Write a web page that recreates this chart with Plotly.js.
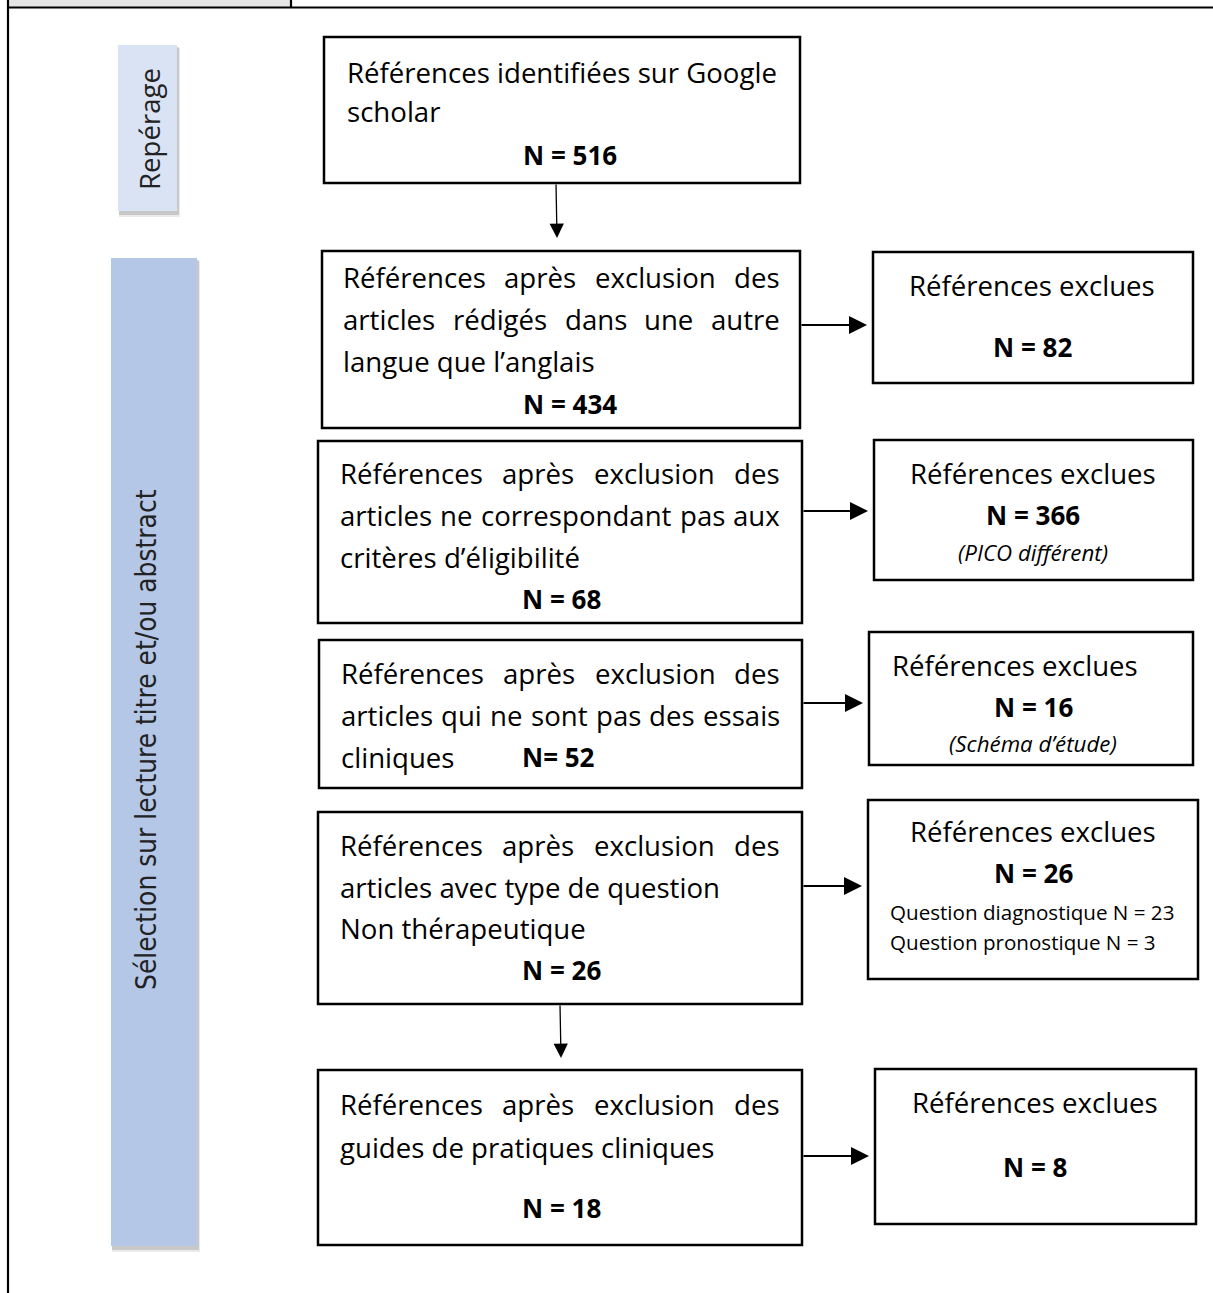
<!DOCTYPE html>
<html>
<head>
<meta charset="utf-8">
<script src="https://cdn.plot.ly/plotly-3.0.1.min.js"></script>
<style>html,body{margin:0;padding:0;background:#fff;}#chart{width:1213px;height:1293px;}</style>
</head>
<body>
<div id="chart"></div>
<script>
// ---------- DATA ----------
const stageLabels = ['Repérage', 'Sélection sur lecture titre et/ou abstract'];
const mainCounts = [516, 434, 68, 52, 26, 18];
const excludedCounts = [82, 366, 16, 26, 8];
const excludedTitle = 'Références exclues';
const excludedReasons = ['', '(PICO différent)', '(Schéma d’étude)', '', ''];
const subQuestionLabels = ['Question diagnostique', 'Question pronostique'];
const subQuestionCounts = [23, 3];
const mainJustifiedLines = [
  [],
  ['Références après exclusion des', 'articles rédigés dans une autre'],
  ['Références après exclusion des', 'articles ne correspondant pas aux'],
  ['Références après exclusion des', 'articles qui ne sont pas des essais'],
  ['Références après exclusion des'],
  ['Références après exclusion des']
];
const mainPlainLines = [
  ['Références identifiées sur Google', 'scholar'],
  ['langue que l’anglais'],
  ['critères d’éligibilité'],
  ['cliniques'],
  ['articles avec type de question', 'Non thérapeutique'],
  ['guides de pratiques cliniques']
];

// ---------- LAYOUT GEOMETRY (pixels) ----------
const FAM = 'Open Sans';
const FONT = '"Open Sans", sans-serif';
const canvas = document.createElement('canvas');
const ctx = canvas.getContext('2d');
function measure(t, size, weight, style, fam){
  ctx.font = (style||'normal') + ' ' + (weight||'normal') + ' ' + size + 'px "' + (fam||FAM) + '", monospace';
  return ctx.measureText(t).width;
}
function available(fam){
  const s = 'abcdefghijklmnopqrstuvwxyz ABCDEFG 0123';
  ctx.font = '40px monospace'; const m = ctx.measureText(s).width;
  ctx.font = '40px "' + fam + '", monospace'; const a = ctx.measureText(s).width;
  ctx.font = '40px serif'; const sr = ctx.measureText(s).width;
  ctx.font = '40px "' + fam + '", serif'; const b = ctx.measureText(s).width;
  return !(a === m && b === sr);
}
const SIDEFAM = ['Liberation Sans Narrow', 'DejaVu Sans Condensed', 'Roboto Condensed', 'Open Sans Condensed', 'Noto Sans'].find(available) || 'Open Sans';
function fit(t, target, weight, style, fam){ return Math.round(target / measure(t, 100, weight, style, fam) * 1000) / 10; }

const FS = fit(mainPlainLines[0][0], 430);
const FSB = fit('N = ' + mainCounts[0], 94, 'bold');
const FSI = fit(excludedReasons[1], 150, 'normal', 'italic');
const FSS = fit(subQuestionLabels[0] + ' N = ' + subQuestionCounts[0], 285);
const FSR = fit(stageLabels[0], 122);
const FSL = fit(stageLabels[1], 500, 'normal', 'normal', SIDEFAM);

const mainBoxes = [
  {x0:324, x1:800, y0:37,  y1:183, tx0:347, tx1:780, lines:[72,111], ny:155, nx:570},
  {x0:322, x1:800, y0:251, y1:428, tx0:343, tx1:780, lines:[277,319,361], ny:404, nx:570},
  {x0:318, x1:802, y0:441, y1:623, tx0:340, tx1:780, lines:[473,515,557], ny:599, nx:561},
  {x0:319, x1:802, y0:640, y1:788, tx0:341, tx1:780, lines:[673,715,757], ny:757, nx:522, nLeft:true},
  {x0:318, x1:802, y0:812, y1:1004, tx0:340, tx1:780, lines:[845,887,928], ny:970, nx:561},
  {x0:318, x1:802, y0:1070, y1:1245, tx0:340, tx1:780, lines:[1104,1147], ny:1208, nx:561}
];
const exclBoxes = [
  {x0:873, x1:1193, y0:252, y1:383, ty:285, ny:347, cx:1032, ay:325},
  {x0:874, x1:1193, y0:440, y1:580, ty:473, ny:515, ry:552, cx:1033, ay:511},
  {x0:869, x1:1193, y0:632, y1:765, ty:665, ny:707, ry:743, cx:1033, tcx:1015, ay:703},
  {x0:868, x1:1198, y0:800, y1:979, ty:831, ny:873, cx:1033, ay:886, sub:[912,942], subx:890},
  {x0:875, x1:1196, y0:1069, y1:1224, ty:1102, ny:1167, cx:1035, ay:1156}
];

const shapes = [];
const annotations = [];
function txt(text, x, y, opts){
  annotations.push(Object.assign({
    x:x, y:y, xref:'x', yref:'y', text:text, showarrow:false,
    xanchor:'center', yanchor:'middle', borderpad:0, borderwidth:0,
    font:{family:FONT, size:FS, color:'#000'}
  }, opts||{}));
}
function rect(x0,y0,x1,y1){
  shapes.push({type:'rect', xref:'x', yref:'y', x0:x0, y0:y0, x1:x1, y1:y1,
    line:{color:'#000', width:2.5}, fillcolor:'rgba(0,0,0,0)', layer:'above'});
}
function seg(x0,y0,x1,y1,w){
  shapes.push({type:'line', xref:'x', yref:'y', x0:x0, y0:y0, x1:x1, y1:y1, line:{color:'#000', width:w}});
}
function arrow(xFrom,yFrom,xTo,yTo,w,s){
  annotations.push({x:xTo, y:yTo, ax:xFrom, ay:yFrom, xref:'x', yref:'y', axref:'x', ayref:'y',
    text:'', showarrow:true, arrowhead:2, arrowsize:s, arrowwidth:w, arrowcolor:'#000', standoff:0, startstandoff:0});
}
function justify(line, x0, x1, y){
  const words = line.split(' ');
  const widths = words.map(w => measure(w, FS));
  const total = widths.reduce((a,b)=>a+b,0);
  const gap = (x1 - x0 - total) / (words.length - 1);
  let x = x0;
  words.forEach((w,i) => { txt(w, x, y, {xanchor:'left'}); x += widths[i] + gap; });
}

// page frame
shapes.push({type:'rect', xref:'x', yref:'y', x0:8, y0:0, x1:291, y1:7, line:{width:0}, fillcolor:'#e7e6e6', layer:'below'});
seg(8,7.5,1213,7.5,2.2);
seg(8,0,8,1293,2.2);
seg(291,0,291,7.5,2.2);

// stage side boxes with soft shadow
function sideBox(x0,y0,x1,y1,fill){
  shapes.push({type:'rect', xref:'x', yref:'y', x0:x0+1, y0:y0+3, x1:x1+3, y1:y1+6, line:{width:0}, fillcolor:'rgba(0,0,0,0.08)', layer:'below'});
  shapes.push({type:'rect', xref:'x', yref:'y', x0:x0+1, y0:y0+2, x1:x1+2, y1:y1+4, line:{width:0}, fillcolor:'rgba(0,0,0,0.15)', layer:'below'});
  shapes.push({type:'rect', xref:'x', yref:'y', x0:x0, y0:y0, x1:x1, y1:y1, line:{width:0}, fillcolor:fill, layer:'below'});
}
sideBox(118,45,177,211,'#dae3f3');
sideBox(111,258,197,1246,'#b4c7e7');
txt(stageLabels[0], 149, 129, {textangle:-90, font:{family:FONT, size:FSR, color:'#222'}});
txt(stageLabels[1], 146, 740, {textangle:-90, font:{family:'"' + SIDEFAM + '", sans-serif', size:FSL, color:'#222'}});

// main boxes
mainBoxes.forEach((b,i) => {
  rect(b.x0,b.y0,b.x1,b.y1);
  let li = 0;
  mainJustifiedLines[i].forEach(l => { justify(l, b.tx0, b.tx1, b.lines[li]); li++; });
  mainPlainLines[i].forEach(l => { txt(l, b.tx0, b.lines[li], {xanchor:'left'}); li++; });
  const nText = i === 3 ? '<b>N= ' + mainCounts[i] + '</b>' : '<b>N = ' + mainCounts[i] + '</b>';
  txt(nText, b.nx, b.ny, Object.assign({font:{family:FONT, size:FSB, color:'#000'}}, b.nLeft ? {xanchor:'left'} : {}));
});

// excluded boxes
exclBoxes.forEach((b,i) => {
  rect(b.x0,b.y0,b.x1,b.y1);
  txt(excludedTitle, b.tcx || b.cx, b.ty);
  txt('<b>N = ' + excludedCounts[i] + '</b>', b.cx, b.ny, {font:{family:FONT, size:FSB, color:'#000'}});
  if (excludedReasons[i]) txt('<i>' + excludedReasons[i] + '</i>', b.cx, b.ry, {font:{family:FONT, size:FSI, color:'#000'}});
  if (b.sub) subQuestionLabels.forEach((s,k) => txt(s + ' N = ' + subQuestionCounts[k], b.subx, b.sub[k], {xanchor:'left', font:{family:FONT, size:FSS, color:'#000'}}));
  const mb = mainBoxes[i+1];
  arrow(mb.x1, b.ay, b.x0 - 6, b.ay, 2, 1.8);
});

// vertical arrows
arrow(556,183,557,238,1.3,2.2);
arrow(560,1004,561,1058,1.3,2.2);

Plotly.newPlot('chart', [], {
  width:1213, height:1293, margin:{l:0,r:0,t:0,b:0},
  paper_bgcolor:'#fff', plot_bgcolor:'#fff',
  xaxis:{range:[0,1213], visible:false, fixedrange:true},
  yaxis:{range:[1293,0], visible:false, fixedrange:true},
  shapes:shapes, annotations:annotations, showlegend:false
}, {staticPlot:true});
</script>
</body>
</html>
